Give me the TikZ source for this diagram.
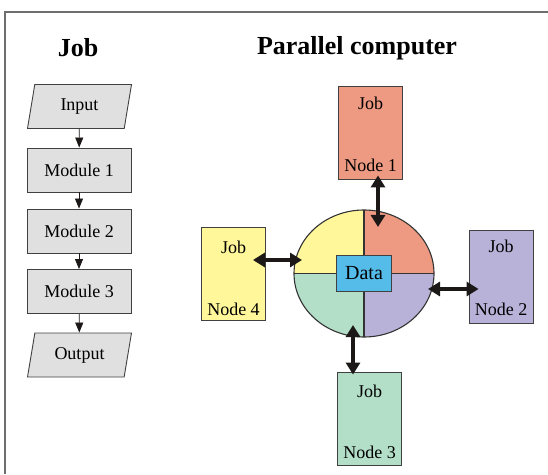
\documentclass[tikz,border=0pt]{standalone}
\usepackage{fontspec}
\setmainfont{Liberation Serif}
\usepackage{tikz}
\usetikzlibrary{arrows.meta}
\usetikzlibrary{shapes.geometric}

\definecolor{boxgray}{HTML}{E0E0E0}
\definecolor{framegray}{HTML}{6E6E6E}
\definecolor{qyellow}{HTML}{FFF79A}
\definecolor{qsalmon}{HTML}{EE9A82}
\definecolor{qgreen}{HTML}{B3DEC8}
\definecolor{qpurple}{HTML}{B8B1D8}
\definecolor{datablue}{HTML}{55BCEA}
\definecolor{arrowblack}{HTML}{1C1818}

\begin{document}
\begin{tikzpicture}[x=1pt,y=1pt,
  every node/.style={font=\fontsize{18}{20}\selectfont},
  title/.style={font=\fontsize{26}{30}\selectfont\bfseries},
  modbox/.style={draw=black!75, fill=boxgray, line width=0.9pt, minimum width=104pt, minimum height=44pt, inner sep=0pt},
  iobox/.style={trapezium, trapezium left angle=65, trapezium right angle=115, trapezium stretches body,
    draw=black!75, fill=boxgray, line width=0.9pt, minimum width=104pt, minimum height=44pt, inner sep=0pt},
  pcbox/.style={draw=black!75, line width=0.9pt, minimum width=64pt, minimum height=93pt, inner sep=0pt},
  flow/.style={-{Triangle[width=8pt,length=10pt]}, line width=0.8pt, arrowblack},
  dblarrow/.style={{Triangle[width=14pt,length=12pt]}-{Triangle[width=14pt,length=12pt]}, line width=4.5pt, arrowblack}]
\useasboundingbox (0,0) rectangle (548,474);
% frame
\draw[framegray, line width=2pt] (548,462) -- (5,462) -- (5,0);
% titles
\node[title] (tjob) at (78,426) {Job};
\node[title] (tpc) at (357,426) {Parallel computer};
% job column
\node[iobox] (in) at (79.5,367.5) {Input};
\node[modbox] (m1) at (79,304) {Module 1};
\node[modbox] (m2) at (79,243) {Module 2};
\node[modbox] (m3) at (79,182.5) {Module 3};
\node[iobox] (out) at (79.5,119) {Output};
\draw[flow] (in) -- (m1);
\draw[flow] (m1) -- (m2);
\draw[flow] (m2) -- (m3);
\draw[flow] (m3) -- (out);
% shared data
\node[ellipse, minimum width=140pt, minimum height=127pt, inner sep=0pt, outer sep=0pt] (pie) at (364,200.5) {};
\fill[qsalmon] (pie.center) -- (pie.east) arc[start angle=0, end angle=90, x radius=70pt, y radius=63.5pt] -- cycle;
\fill[qyellow] (pie.center) -- (pie.north) arc[start angle=90, end angle=180, x radius=70pt, y radius=63.5pt] -- cycle;
\fill[qgreen] (pie.center) -- (pie.west) arc[start angle=180, end angle=270, x radius=70pt, y radius=63.5pt] -- cycle;
\fill[qpurple] (pie.center) -- (pie.south) arc[start angle=270, end angle=360, x radius=70pt, y radius=63.5pt] -- cycle;
\draw[black!80, line width=1.1pt] (pie.north) -- (pie.south);
\draw[black!80, line width=1.1pt] (pie.west) -- (pie.east);
\draw[black!80, line width=1.1pt] (pie.center) ellipse [x radius=70pt, y radius=63.5pt];
\node[draw=black!75, fill=datablue, line width=0.9pt, minimum width=55pt, minimum height=36pt, inner sep=0pt,
  font=\fontsize{20}{22}\selectfont] (data) at (pie.center) {Data};
% computer nodes
\node[pcbox, fill=qsalmon] (n1) at (370.5,341.5) {};
\node[pcbox, fill=qpurple] (n2) at (501,197.5) {};
\node[pcbox, fill=qgreen] (n3) at (369.5,55.5) {};
\node[pcbox, fill=qyellow] (n4) at (233.5,200) {};
\node (n1a) at ([yshift=-18pt]n1.north) {Job};
\node (n1b) at ([yshift=14pt]n1.south) {Node 1};
\node (n2a) at ([yshift=-17pt]n2.north) {Job};
\node (n2b) at ([yshift=14pt]n2.south) {Node 2};
\node (n3a) at ([yshift=-20pt]n3.north) {Job};
\node (n3b) at ([yshift=13pt]n3.south) {Node 3};
\node (n4a) at ([yshift=-20pt]n4.north) {Job};
\node (n4b) at ([yshift=12pt]n4.south) {Node 4};
% links
\draw[dblarrow] ([xshift=7.5pt,yshift=4pt]n1.south) -- ([xshift=14pt,yshift=46.5pt]pie.center);
\draw[dblarrow] ([xshift=64pt,yshift=-15.5pt]pie.center) -- ([xshift=10pt,yshift=-12.5pt]n2.west);
\draw[dblarrow] ([xshift=-11pt,yshift=-51.5pt]pie.center) -- ([xshift=-16.5pt,yshift=-3pt]n3.north);
\draw[dblarrow] ([xshift=-13pt,yshift=14pt]n4.east) -- ([xshift=-62pt,yshift=13.5pt]pie.center);
\end{tikzpicture}
\end{document}
